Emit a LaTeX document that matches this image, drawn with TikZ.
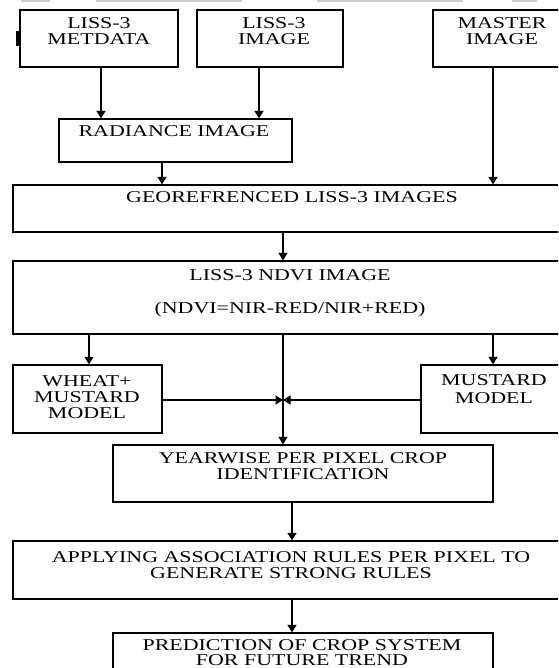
\documentclass[tikz,border=0pt]{standalone}
\usepackage{fontspec}
\setmainfont{Liberation Serif}[FakeStretch=1.33]
\usetikzlibrary{arrows.meta}
\begin{document}
\begin{tikzpicture}[x=1pt,y=-1pt]
\tikzset{
  box/.style={draw=black, line width=1.3pt, inner sep=0pt},
  txt/.style={anchor=north, inner sep=0pt, align=center, font=\fontsize{16.5}{16}\selectfont},
  arr/.style={line width=1.4pt, -{Triangle[width=9pt,length=7.5pt]}},
  artifact/.style={draw=gray!40, line width=1.5pt}
}
\useasboundingbox (0,0) rectangle (558,668);
\clip (0,0) rectangle (558,668);

% faint marks at the top edge
\draw[artifact] (21,1) -- (50,1);
\draw[artifact] (96,1) -- (242,1);
\draw[artifact] (317,1) -- (463,1);
\draw[artifact] (512,1) -- (537,1);

% boxes
\node[box, minimum width=158pt, minimum height=57pt] (meta) at (99,38.5) {};
\node[box, minimum width=146pt, minimum height=57pt] (liss) at (270,38.5) {};
\node[box, minimum width=138pt, minimum height=57pt] (master) at (502,38.5) {};
\node[box, minimum width=233pt, minimum height=43pt] (rad) at (175.5,140.5) {};
\node[box, minimum width=556pt, minimum height=47pt] (geo) at (291,208.5) {};
\node[box, minimum width=556pt, minimum height=73pt] (ndvi) at (291,297.5) {};
\node[box, minimum width=149pt, minimum height=68pt] (wheat) at (87.5,399) {};
\node[box, minimum width=146pt, minimum height=68pt] (mustard) at (494,399) {};
\node[box, minimum width=380pt, minimum height=57pt] (year) at (303,473.5) {};
\node[box, minimum width=556pt, minimum height=58pt] (apply) at (291,570) {};
\node[box, minimum width=380pt, minimum height=57pt] (pred) at (303,661.5) {};

% small tab on the left of the first box
\fill (15.5,31) rectangle (20,46);

% texts
\node[txt] (metaT) at (99,17) {LISS-3\\METDATA};
\node[txt] (lissT) at (274,17) {LISS-3\\IMAGE};
\node[txt] (masterT) at (502,17) {MASTER\\IMAGE};
\node[txt] (radT) at (174,125) {RADIANCE IMAGE};
\node[txt] (geoT) at (292,191) {GEOREFRENCED LISS-3 IMAGES};
\node[txt] (ndviT) at (290,269) {LISS-3 NDVI IMAGE\\[17pt](NDVI=NIR-RED/NIR+RED)};
\node[txt] (wheatT) at (87,375) {WHEAT+\\MUSTARD\\MODEL};
\node[txt] (mustardT) at (494,374) {MUSTARD\\[2pt]MODEL};
\node[txt] (yearT) at (303,452) {YEARWISE PER PIXEL CROP\\IDENTIFICATION};
\node[txt] (applyT) at (291,551) {APPLYING ASSOCIATION RULES PER PIXEL TO\\GENERATE STRONG RULES};
\node[txt, font=\fontsize{16.5}{15}\selectfont] (predT) at (302,639.5) {PREDICTION OF CROP SYSTEM\\FOR FUTURE TREND};

% connector positions
\coordinate (xMeta) at (101,0);
\coordinate (xLiss) at (259,0);
\coordinate (xRad) at (162,0);
\coordinate (xMaster) at (493,0);
\coordinate (xGeo) at (283,0);
\coordinate (xWheat) at (89,0);
\coordinate (xMust) at (493,0);
\coordinate (j) at (283,400);
\coordinate (xYear) at (292,0);

% connectors
\draw[arr] (meta.south -| xMeta) -- (rad.north -| xMeta);
\draw[arr] (liss.south -| xLiss) -- (rad.north -| xLiss);
\draw[arr] (rad.south -| xRad) -- (geo.north -| xRad);
\draw[arr] (master.south -| xMaster) -- (geo.north -| xMaster);
\draw[arr] (geo.south -| xGeo) -- (ndvi.north -| xGeo);
\draw[arr] (ndvi.south -| xWheat) -- (wheat.north -| xWheat);
\draw[arr] (ndvi.south -| xMust) -- (mustard.north -| xMust);
\draw[arr] (ndvi.south -| j) -- (year.north -| j);
\draw[arr] (wheat.east |- j) -- (j);
\draw[arr] (mustard.west |- j) -- (j);
\draw[arr] (year.south -| xYear) -- (apply.north -| xYear);
\draw[arr] (apply.south -| xYear) -- (pred.north -| xYear);
\end{tikzpicture}
\end{document}
